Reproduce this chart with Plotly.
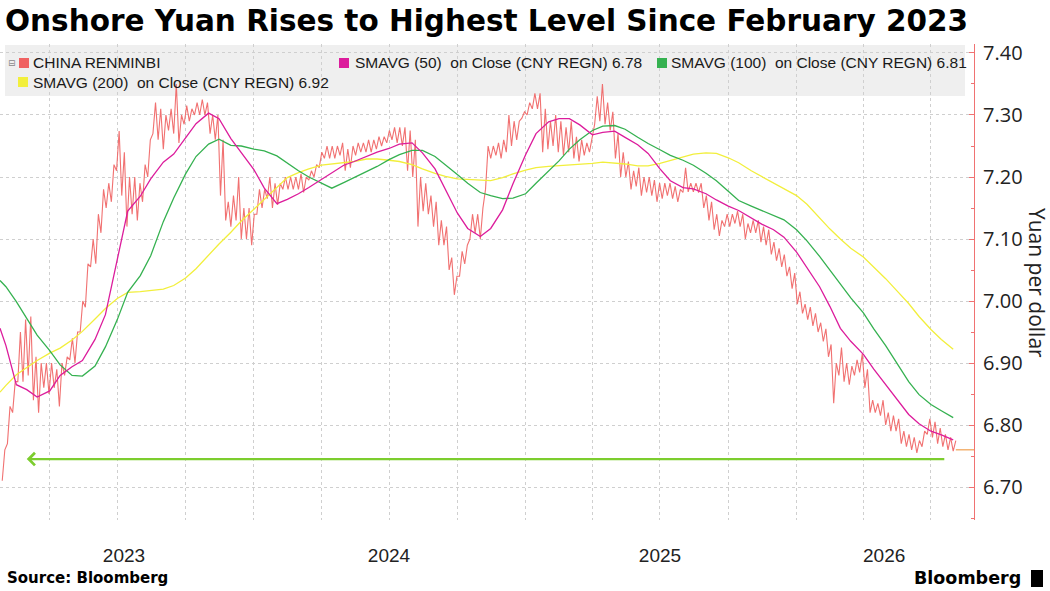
import pandas as pd
import plotly.graph_objects as go

# ---------------- data ----------------
bar_dates = pd.date_range("2023-01-27", periods=184, freq="7D")

bar_low = [
    6.71, 6.77, 6.82, 6.87, 6.87, 6.88, 6.84, 6.82, 6.86, 6.85,
    6.86, 6.83, 6.88, 6.905, 6.90, 6.95, 6.99, 7.055, 7.06, 7.11,
    7.15, 7.16, 7.21, 7.17, 7.12, 7.14, 7.13, 7.16, 7.20, 7.27,
    7.26, 7.245, 7.275, 7.27, 7.255, 7.285, 7.29, 7.30, 7.30, 7.30,
    7.27, 7.26, 7.17, 7.13, 7.12, 7.13, 7.10, 7.10, 7.09, 7.14,
    7.15, 7.165, 7.15, 7.155, 7.18, 7.18, 7.18, 7.18, 7.175, 7.195,
    7.20, 7.215, 7.23, 7.23, 7.23, 7.235, 7.21, 7.215, 7.235, 7.24,
    7.24, 7.24, 7.245, 7.25, 7.255, 7.26, 7.255, 7.25, 7.21, 7.20,
    7.12, 7.145, 7.14, 7.12, 7.09, 7.09, 7.05, 7.01, 7.04, 7.06,
    7.10, 7.11, 7.10, 7.18, 7.23, 7.235, 7.23, 7.24, 7.25, 7.26,
    7.295, 7.30, 7.31, 7.31, 7.24, 7.245, 7.25, 7.24, 7.235, 7.24,
    7.23, 7.225, 7.235, 7.24, 7.285, 7.29, 7.285, 7.275, 7.23, 7.20,
    7.20, 7.18, 7.185, 7.17, 7.175, 7.17, 7.16, 7.165, 7.17, 7.165,
    7.16, 7.175, 7.176, 7.176, 7.175, 7.15, 7.13, 7.115, 7.105, 7.12,
    7.12, 7.125, 7.12, 7.10, 7.11, 7.11, 7.095, 7.09, 7.075, 7.065,
    7.055, 7.04, 7.02, 6.995, 6.98, 6.97, 6.96, 6.95, 6.935, 6.91,
    6.835, 6.88, 6.87, 6.865, 6.88, 6.885, 6.86, 6.82, 6.82, 6.815,
    6.80, 6.79, 6.79, 6.77, 6.765, 6.76, 6.755, 6.765, 6.785, 6.78,
    6.77, 6.765, 6.76, 6.758,
]
bar_high = [
    6.76, 6.83, 6.87, 6.95, 6.97, 6.975, 6.91, 6.90, 6.90, 6.90,
    6.89, 6.90, 6.91, 6.94, 6.95, 7.00, 7.06, 7.10, 7.14, 7.18,
    7.19, 7.22, 7.274, 7.24, 7.20, 7.20, 7.19, 7.22, 7.26, 7.32,
    7.31, 7.30, 7.31, 7.35, 7.30, 7.315, 7.31, 7.32, 7.325, 7.32,
    7.30, 7.30, 7.26, 7.16, 7.17, 7.20, 7.15, 7.15, 7.14, 7.18,
    7.18, 7.20, 7.19, 7.19, 7.20, 7.20, 7.20, 7.205, 7.20, 7.21,
    7.22, 7.24, 7.25, 7.25, 7.25, 7.255, 7.245, 7.25, 7.255, 7.255,
    7.26, 7.26, 7.265, 7.265, 7.275, 7.28, 7.28, 7.28, 7.275, 7.26,
    7.20, 7.19, 7.17, 7.16, 7.13, 7.12, 7.07, 7.04, 7.08, 7.09,
    7.14, 7.14, 7.15, 7.25, 7.25, 7.255, 7.26, 7.30, 7.29, 7.29,
    7.305, 7.32, 7.335, 7.335, 7.31, 7.29, 7.30, 7.29, 7.28, 7.29,
    7.265, 7.26, 7.255, 7.26, 7.33, 7.35, 7.32, 7.305, 7.27, 7.24,
    7.225, 7.21, 7.215, 7.20, 7.20, 7.195, 7.19, 7.19, 7.19, 7.185,
    7.18, 7.215, 7.19, 7.19, 7.19, 7.17, 7.16, 7.14, 7.13, 7.14,
    7.14, 7.145, 7.14, 7.125, 7.13, 7.13, 7.12, 7.115, 7.095, 7.085,
    7.075, 7.055, 7.045, 7.015, 6.995, 6.99, 6.98, 6.965, 6.955, 6.93,
    6.90, 6.925, 6.90, 6.895, 6.905, 6.915, 6.89, 6.84, 6.835, 6.84,
    6.82, 6.815, 6.81, 6.79, 6.785, 6.78, 6.775, 6.79, 6.81, 6.805,
    6.795, 6.785, 6.78, 6.775,
]
last_close = 6.76

sma_dates = ([pd.Timestamp("2023-01-24")]
             + list(pd.date_range("2023-02-01", "2026-07-15", freq="SMS"))
             + [pd.Timestamp("2026-07-31")])

sma50 = [
    6.956, 6.928, 6.865, 6.857, 6.845, 6.855, 6.880, 6.894, 6.904, 6.938,
    6.978, 7.068, 7.145, 7.169, 7.197, 7.224, 7.237, 7.263, 7.286, 7.303,
    7.294, 7.262, 7.239, 7.212, 7.182, 7.157, 7.164, 7.173, 7.183, 7.196,
    7.206, 7.219, 7.225, 7.233, 7.240, 7.246, 7.253, 7.255, 7.239, 7.213,
    7.179, 7.142, 7.117, 7.104, 7.117, 7.147, 7.189, 7.236, 7.270, 7.289,
    7.294, 7.294, 7.284, 7.268, 7.272, 7.274, 7.264, 7.252, 7.238, 7.213,
    7.194, 7.183, 7.181, 7.173, 7.163, 7.153, 7.146, 7.134, 7.124, 7.115,
    7.103, 7.079, 7.053, 7.023, 6.991, 6.956, 6.935, 6.914, 6.890, 6.865,
    6.842, 6.817, 6.802, 6.790, 6.784, 6.776,
]
sma100 = [
    7.033, 7.023, 6.999, 6.971, 6.945, 6.920, 6.897, 6.880, 6.879, 6.895,
    6.926, 6.970, 7.014, 7.041, 7.073, 7.128, 7.166, 7.205, 7.233, 7.253,
    7.261, 7.251, 7.250, 7.245, 7.242, 7.234, 7.222, 7.210, 7.200, 7.190,
    7.182, 7.191, 7.199, 7.209, 7.217, 7.228, 7.236, 7.243, 7.243, 7.233,
    7.220, 7.204, 7.190, 7.175, 7.170, 7.165, 7.166, 7.173, 7.190, 7.210,
    7.226, 7.245, 7.260, 7.275, 7.282, 7.283, 7.277, 7.264, 7.254, 7.244,
    7.235, 7.227, 7.219, 7.206, 7.194, 7.177, 7.162, 7.153, 7.146, 7.139,
    7.131, 7.115, 7.097, 7.072, 7.050, 7.027, 7.005, 6.981, 6.955, 6.928,
    6.901, 6.870, 6.849, 6.833, 6.823, 6.812,
]
sma200 = [
    6.853, 6.864, 6.881, 6.893, 6.904, 6.916, 6.924, 6.937, 6.951, 6.971,
    6.988, 7.004, 7.014, 7.015, 7.017, 7.019, 7.025, 7.037, 7.052, 7.074,
    7.092, 7.111, 7.129, 7.148, 7.164, 7.184, 7.199, 7.207, 7.213, 7.219,
    7.221, 7.224, 7.225, 7.229, 7.229, 7.227, 7.225, 7.220, 7.213, 7.206,
    7.201, 7.197, 7.196, 7.194, 7.194, 7.199, 7.205, 7.211, 7.215, 7.217,
    7.218, 7.219, 7.221, 7.222, 7.224, 7.223, 7.221, 7.218, 7.218, 7.222,
    7.227, 7.233, 7.237, 7.239, 7.238, 7.231, 7.223, 7.210, 7.201, 7.191,
    7.182, 7.170, 7.156, 7.134, 7.116, 7.100, 7.085, 7.071, 7.055, 7.036,
    7.018, 6.996, 6.975, 6.954, 6.938, 6.922,
]

legend_labels = [
    "CHINA RENMINBI",
    "SMAVG (50)\u00a0 on Close (CNY REGN) 6.78",
    "SMAVG (100)\u00a0 on Close (CNY REGN) 6.81",
    "SMAVG (200)\u00a0 on Close (CNY REGN) 6.92",
]

y_ticks = [6.70, 6.80, 6.90, 7.00, 7.10, 7.20, 7.30, 7.40]
y_minor = [6.65, 6.75, 6.85, 6.95, 7.05, 7.15, 7.25, 7.35]
quarter_lines = list(pd.date_range("2023-04-01", "2026-07-01", freq="QS"))
year_label_dates = ["2023-07-10", "2024-07-01", "2025-07-01", "2026-04-29"]
year_labels = ["2023", "2024", "2025", "2026"]

arrow_level = 6.745
arrow_from = "2026-07-21"
arrow_to = "2023-03-01"

x_range = ["2023-01-24", "2026-08-28"]
y_range = [6.6468, 7.4145]

# ---------------- colours ----------------
C_PRICE = "#f06262"
C_SMA50 = "#dc1c9c"
C_SMA100 = "#35b150"
C_SMA200 = "#f2ef3c"
C_LAST = "#f0a050"
C_AXIS = "#f07272"
C_ARROW = "#7ccd2e"

# ---------------- figure ----------------
W, H = 1050, 591
L, R, T, B = 0, 76, 44, 71
PW, PH = W - L - R, H - T - B


def px(x):
    return (x - L) / PW


def py(y):
    return (H - B - y) / PH


# weekly low -> high strokes (each week's trading range drawn as a stroke)
half_week = pd.Timedelta(days=3.5)
zig_x, zig_y = [], []
for d, lo, hi in zip(bar_dates, bar_low, bar_high):
    zig_x += [d, d + half_week]
    zig_y += [lo, hi]

fig = go.Figure()

fig.add_trace(go.Scatter(
    x=zig_x, y=zig_y, mode="lines",
    line=dict(color=C_PRICE, width=1.1),
    opacity=0.9, showlegend=False,
))
fig.add_trace(go.Scatter(x=sma_dates, y=sma200, mode="lines",
                         line=dict(color=C_SMA200, width=1.3), showlegend=False))
fig.add_trace(go.Scatter(x=sma_dates, y=sma100, mode="lines",
                         line=dict(color=C_SMA100, width=1.3), showlegend=False))
fig.add_trace(go.Scatter(x=sma_dates, y=sma50, mode="lines",
                         line=dict(color=C_SMA50, width=1.3), showlegend=False))
fig.add_trace(go.Scatter(x=[bar_dates[-1] + half_week, pd.Timestamp(x_range[1])],
                         y=[last_close, last_close], mode="lines",
                         line=dict(color=C_LAST, width=1.2), showlegend=False))

annotations = []
# green arrow
annotations.append(dict(
    x=arrow_to, y=arrow_level, ax=arrow_from, ay=arrow_level,
    xref="x", yref="y", axref="x", ayref="y", text="",
    showarrow=True, arrowhead=4, arrowsize=1.1, arrowwidth=2.2,
    arrowcolor=C_ARROW, standoff=0, startstandoff=0,
))

# title & footers
annotations.append(dict(
    x=px(3), y=py(21), xref="paper", yref="paper", xanchor="left", yanchor="middle",
    text="<b>Onshore Yuan Rises to Highest Level Since February 2023</b>",
    showarrow=False, font=dict(family="DejaVu Sans", size=29.5, color="#000000"),
))
annotations.append(dict(
    x=px(5), y=py(578), xref="paper", yref="paper", xanchor="left", yanchor="middle",
    text="<b>Source: Bloomberg</b>", showarrow=False,
    font=dict(family="DejaVu Sans", size=15, color="#000000"),
))
annotations.append(dict(
    x=px(1023), y=py(578), xref="paper", yref="paper", xanchor="right", yanchor="middle",
    text="<b>Bloomberg</b>", showarrow=False,
    font=dict(family="DejaVu Sans", size=17.5, color="#000000"),
))
annotations.append(dict(
    x=px(1037), y=py(283), xref="paper", yref="paper", xanchor="center", yanchor="middle",
    text="Yuan per dollar", textangle=90, showarrow=False,
    font=dict(family="Open Sans", size=21, color="#222222"),
))

# legend texts
leg_font = dict(family="Liberation Sans", size=15.5, color="#1a1a1a")
leg_pos = [(31, 63), (353, 63), (669, 63), (31, 82)]
for (lx, ly), lab in zip(leg_pos, legend_labels):
    annotations.append(dict(
        x=px(lx), y=py(ly), xref="paper", yref="paper", xanchor="left", yanchor="middle",
        text=lab, showarrow=False, font=leg_font,
    ))
annotations.append(dict(
    x=px(12), y=py(63), xref="paper", yref="paper", xanchor="center", yanchor="middle",
    text="⊟", showarrow=False, font=dict(family="DejaVu Sans", size=9, color="#888888"),
))

shapes = [
    dict(type="rect", xref="paper", yref="paper", x0=px(5), x1=px(965), y0=py(96), y1=py(45),
         fillcolor="#efefef", line=dict(width=0), layer="below"),
]
sq = [((19, 58), C_PRICE), ((339, 58), C_SMA50), ((657, 58), C_SMA100), ((18, 77), C_SMA200)]
for (sx, sy), col in sq:
    shapes.append(dict(type="rect", xref="paper", yref="paper",
                       x0=px(sx), x1=px(sx + 10), y0=py(sy + 10), y1=py(sy),
                       fillcolor=col, line=dict(width=0)))
# Bloomberg logo block
shapes.append(dict(type="rect", xref="paper", yref="paper",
                   x0=px(1031), x1=px(1043), y0=py(587), y1=py(570),
                   fillcolor="#000000", line=dict(width=0)))

fig.update_layout(
    width=W, height=H,
    margin=dict(l=L, r=R, t=T, b=B, pad=0),
    paper_bgcolor="white", plot_bgcolor="white",
    showlegend=False,
    annotations=annotations,
    shapes=shapes,
    xaxis=dict(
        type="date", range=x_range,
        tickmode="array", tickvals=year_label_dates, ticktext=year_labels,
        showgrid=False, zeroline=False, showline=False,
        ticks="outside", ticklen=18, tickcolor="rgba(0,0,0,0)",
        tickfont=dict(family="Liberation Sans", size=19, color="#222222"),
        minor=dict(tickmode="array", tickvals=quarter_lines, showgrid=True,
                   gridcolor="#cfcfcf", gridwidth=1, griddash="dot", ticks=""),
    ),
    yaxis=dict(
        side="right", range=y_range,
        tickmode="array", tickvals=y_ticks, tickformat=".2f",
        showgrid=True, gridcolor="#cfcfcf", gridwidth=1, griddash="dot",
        zeroline=False,
        showline=True, linecolor=C_AXIS, linewidth=1.2,
        ticks="inside", ticklen=5, tickcolor=C_AXIS, tickwidth=1.2,
        ticklabelstandoff=4,
        tickfont=dict(family="Open Sans", size=20, color="#222222"),
        minor=dict(tickmode="array", tickvals=y_minor, ticks="inside", ticklen=3,
                   tickcolor=C_AXIS, showgrid=False),
    ),
)

fig.write_html("out.html")
